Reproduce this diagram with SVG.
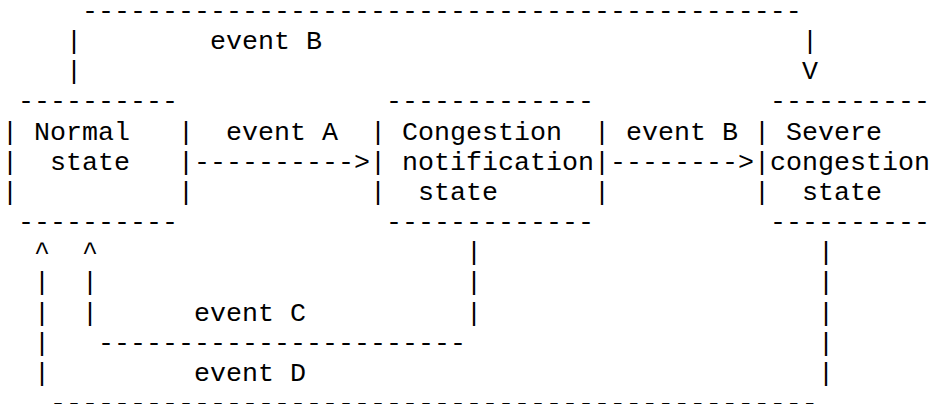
<svg xmlns="http://www.w3.org/2000/svg" width="932" height="404" viewBox="0 0 932 404">
  <style>
    /* monospace character grid: 16px columns, ~30.15px rows */
    .t { font-family: "Liberation Mono", "Courier New", "DejaVu Sans Mono", monospace; font-size: 26.667px; fill: #000; }
  </style>
  <rect width="932" height="404" fill="#fff"/>

  <!-- State boxes -->
  <g id="normal-state" class="t">
    <text x="18" y="109.45">----------</text>
    <text x="2" y="139.6">|</text>
    <text x="34" y="139.6">Normal</text>
    <text x="178" y="139.6">|</text>
    <text x="2" y="169.75">|</text>
    <text x="50" y="169.75">state</text>
    <text x="178" y="169.75">|</text>
    <text x="2" y="199.9">|</text>
    <text x="178" y="199.9">|</text>
    <text x="18" y="230.05">----------</text>
  </g>

  <g id="congestion-notification-state" class="t">
    <text x="386" y="109.45">-------------</text>
    <text x="370" y="139.6">|</text>
    <text x="402" y="139.6">Congestion</text>
    <text x="594" y="139.6">|</text>
    <text x="370" y="169.75">|</text>
    <text x="402" y="169.75">notification</text>
    <text x="594" y="169.75">|</text>
    <text x="370" y="199.9">|</text>
    <text x="418" y="199.9">state</text>
    <text x="594" y="199.9">|</text>
    <text x="386" y="230.05">-------------</text>
  </g>

  <g id="severe-congestion-state" class="t">
    <text x="770" y="109.45">----------</text>
    <text x="754" y="139.6">|</text>
    <text x="786" y="139.6">Severe</text>
    <text x="754" y="169.75">|</text>
    <text x="770" y="169.75">congestion</text>
    <text x="754" y="199.9">|</text>
    <text x="802" y="199.9">state</text>
    <text x="770" y="230.05">----------</text>
  </g>

  <!-- Transitions -->
  <g id="connectors" class="t">
    <!-- event A: normal -> congestion notification -->
    <text x="226" y="139.6">event A</text>
    <text x="194" y="169.75">----------&gt;</text>

    <!-- event B: congestion notification -> severe -->
    <text x="626" y="139.6">event B</text>
    <text x="610" y="169.75">--------&gt;</text>

    <!-- event B: normal -> severe (over the top) -->
    <text x="82" y="19">---------------------------------------------</text>
    <text x="66" y="49.15">|</text>
    <text x="210" y="49.15">event B</text>
    <text x="802" y="49.15">|</text>
    <text x="66" y="79.3">|</text>
    <text x="802" y="79.3">V</text>

    <!-- event C: congestion notification -> normal -->
    <text x="82" y="260.2">^</text>
    <text x="82" y="290.35">|</text>
    <text x="82" y="320.5">|</text>
    <text x="466" y="260.2">|</text>
    <text x="466" y="290.35">|</text>
    <text x="466" y="320.5">|</text>
    <text x="194" y="320.5">event C</text>
    <text x="98" y="350.65">-----------------------</text>

    <!-- event D: severe -> normal -->
    <text x="34" y="260.2">^</text>
    <text x="34" y="290.35">|</text>
    <text x="34" y="320.5">|</text>
    <text x="34" y="350.65">|</text>
    <text x="34" y="380.8">|</text>
    <text x="818" y="260.2">|</text>
    <text x="818" y="290.35">|</text>
    <text x="818" y="320.5">|</text>
    <text x="818" y="350.65">|</text>
    <text x="818" y="380.8">|</text>
    <text x="194" y="380.8">event D</text>
    <text x="50" y="410.95">------------------------------------------------</text>
  </g>
</svg>
